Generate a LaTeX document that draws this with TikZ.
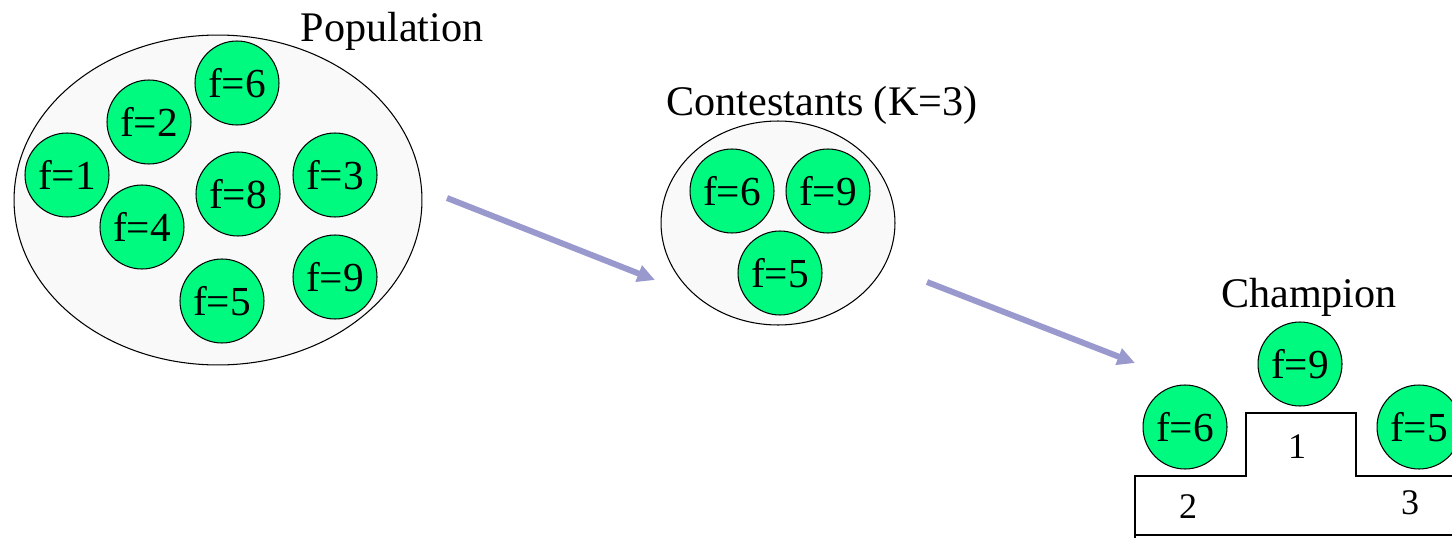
\documentclass[tikz,border=0pt]{standalone}
\usepackage{fontspec}
\setmainfont{Liberation Serif}
\usetikzlibrary{shapes.geometric,arrows.meta}
\definecolor{indivgreen}{RGB}{0,250,128}
\definecolor{poolgray}{RGB}{249,249,249}
\definecolor{flowblue}{RGB}{153,153,206}
\begin{document}
\begin{tikzpicture}[x=0.02cm,y=-0.02cm,
    pool/.style={ellipse, draw=black, line width=0.6pt, fill=poolgray, inner sep=0pt},
    indiv/.style={circle, draw=black, line width=0.6pt, fill=indivgreen, minimum size=1.68cm, inner sep=0pt, font=\fontsize{23.5}{27}\selectfont},
    title/.style={anchor=base, inner sep=0pt, font=\fontsize{24}{28}\selectfont},
    rank/.style={inner sep=0pt, font=\fontsize{20.5}{24}\selectfont},
    flow/.style={line width=3.4pt, draw=flowblue, -{Triangle[length=10pt,width=9.5pt]}}]
    \clip (0,0) rectangle (1452,537);

    % population
    \node[pool, minimum width=8.16cm, minimum height=6.6cm] (pop) at (218,200) {};
    \node[title] (poplabel) at (392,42) {Population};
    \node[indiv] (p6) at (237,83) {f=6};
    \node[indiv] (p2) at (149,122) {f=2};
    \node[indiv] (p1) at (67,175) {f=1};
    \node[indiv] (p4) at (142,227) {f=4};
    \node[indiv] (p8) at (238,194) {f=8};
    \node[indiv] (p3) at (335,175) {f=3};
    \node[indiv] (p9) at (335,277) {f=9};
    \node[indiv] (p5) at (222,301) {f=5};

    % contestants
    \node[pool, minimum width=4.68cm, minimum height=4.08cm] (cont) at (778,223) {};
    \node[title] (contlabel) at (822,115) {Contestants (K=3)};
    \node[indiv] (c6) at (732,191) {f=6};
    \node[indiv] (c9) at (828,191) {f=9};
    \node[indiv] (c5) at (780,273) {f=5};

    % champion podium
    \fill[white] (1135,537) -- (1135,476) -- (1246,476) -- (1246,413) -- (1356,413)
        -- (1356,476) -- (1460,476) -- (1460,537) -- cycle;
    \draw[line width=1pt] (1135,545) -- (1135,476) -- (1246,476) -- (1246,413)
        -- (1356,413) -- (1356,476) -- (1460,476);
    \draw[line width=1pt] (1135,535) -- (1460,535);
    \node[rank] (r1) at (1297,447) {1};
    \node[rank] (r2) at (1188,507) {2};
    \node[rank] (r3) at (1410,503) {3};
    \node[title] (champlabel) at (1309,307) {Champion};
    \node[indiv] (w9) at (1300,364) {f=9};
    \node[indiv] (w6) at (1185,427) {f=6};
    \node[indiv] (w5) at (1419,427) {f=5};

    % arrows
    \coordinate (s1) at (447,198);
    \coordinate (e1) at (655,280);
    \coordinate (s2) at (927,282);
    \coordinate (e2) at (1135,363);
    \draw[flow] (s1) -- (e1);
    \draw[flow] (s2) -- (e2);
\end{tikzpicture}
\end{document}
